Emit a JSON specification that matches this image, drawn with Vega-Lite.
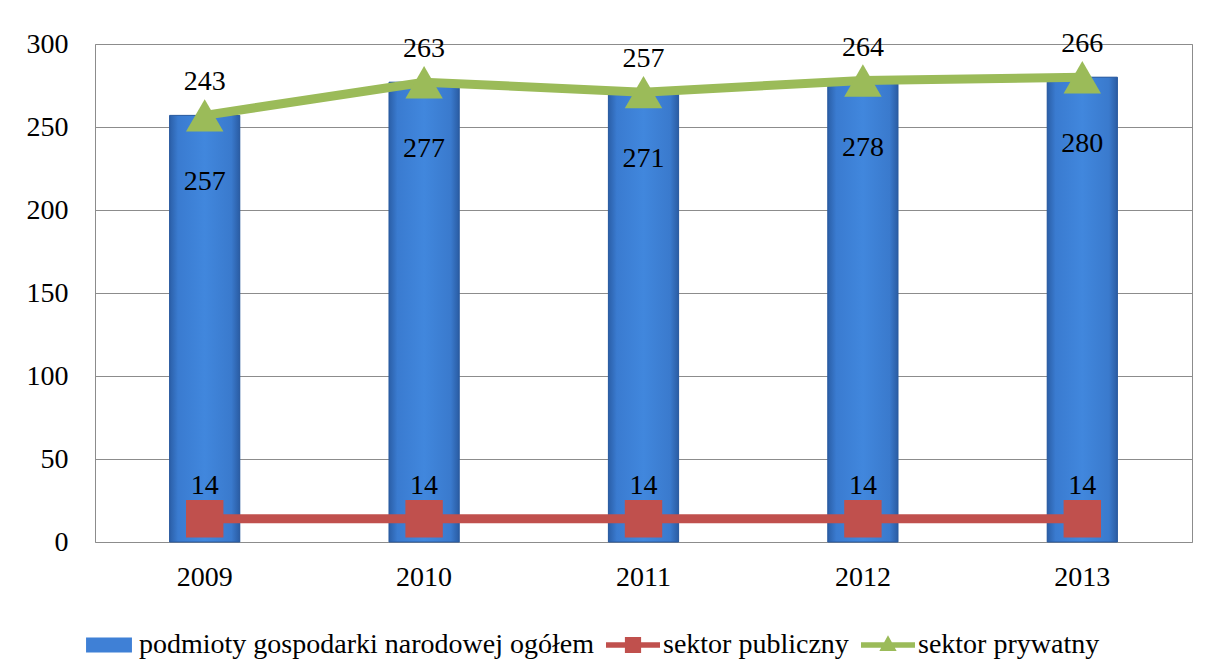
{
  "$schema": "https://vega.github.io/schema/vega-lite/v6.json",
  "width": 1097,
  "height": 498,
  "autosize": {"type": "none"},
  "padding": {"left": 95, "top": 44, "right": 16, "bottom": 124},
  "background": "white",
  "config": {
    "view": {"stroke": "#8c8c8c", "strokeWidth": 1},
    "axis": {"labelFont": "serif", "labelFontSize": 28, "labelColor": "black", "ticks": false, "domain": false, "gridColor": "#8c8c8c", "gridWidth": 1, "gridOpacity": 1},
    "legend": {"labelFont": "serif"},
    "text": {"font": "serif"}
  },
  "data": {
    "values": [
      {"rok": "2009", "seria": "podmioty gospodarki narodowej ogółem", "wartosc": 257},
      {"rok": "2010", "seria": "podmioty gospodarki narodowej ogółem", "wartosc": 277},
      {"rok": "2011", "seria": "podmioty gospodarki narodowej ogółem", "wartosc": 271},
      {"rok": "2012", "seria": "podmioty gospodarki narodowej ogółem", "wartosc": 278},
      {"rok": "2013", "seria": "podmioty gospodarki narodowej ogółem", "wartosc": 280},
      {"rok": "2009", "seria": "sektor publiczny", "wartosc": 14},
      {"rok": "2010", "seria": "sektor publiczny", "wartosc": 14},
      {"rok": "2011", "seria": "sektor publiczny", "wartosc": 14},
      {"rok": "2012", "seria": "sektor publiczny", "wartosc": 14},
      {"rok": "2013", "seria": "sektor publiczny", "wartosc": 14},
      {"rok": "2009", "seria": "sektor prywatny", "wartosc": 243},
      {"rok": "2010", "seria": "sektor prywatny", "wartosc": 263},
      {"rok": "2011", "seria": "sektor prywatny", "wartosc": 257},
      {"rok": "2012", "seria": "sektor prywatny", "wartosc": 264},
      {"rok": "2013", "seria": "sektor prywatny", "wartosc": 266}
    ]
  },
  "encoding": {
    "x": {
      "field": "rok", "type": "nominal",
      "scale": {"paddingInner": 0.68, "paddingOuter": 0.34},
      "axis": {"title": null, "labelAngle": 0, "labelPadding": 21, "grid": false, "labelFont": "serif"}
    }
  },
  "layer": [
    {
      "transform": [{"filter": "datum.seria === 'podmioty gospodarki narodowej ogółem'"}],
      "encoding": {
        "y": {"field": "wartosc", "type": "quantitative", "scale": {"domain": [0, 300], "nice": false},
          "axis": {"title": null, "values": [0, 50, 100, 150, 200, 250, 300], "labelPadding": 27, "grid": true, "labelFont": "serif"}}
      },
      "layer": [
        {
          "mark": {"type": "bar"},
          "encoding": {
            "color": {
              "field": "seria", "type": "nominal",
              "scale": {"domain": ["podmioty gospodarki narodowej ogółem", "sektor publiczny", "sektor prywatny"], "range": ["#3f80d6", "#c0504d", "#9bbb59"]},
              "legend": {
                "title": null, "orient": "none", "legendX": -13, "legendY": 574, "direction": "horizontal",
                "labelFont": "serif", "labelFontSize": 28, "labelColor": "black", "labelLimit": 700,
                "symbolSize": 2916, "symbolStrokeWidth": 0, "labelOffset": 3, "columnPadding": 12,
                "encode": {
                  "symbols": {
                    "update": {
                      "shape": {"signal": "datum.value === 'podmioty gospodarki narodowej ogółem' ? 'M-0.85,-0.28H0.85V0.28H-0.85Z' : datum.value === 'sektor publiczny' ? 'M-1,-0.1H1V0.1H-1Z M-0.3,-0.3H0.3V0.3H-0.3Z' : 'M-1,-0.1H1V0.1H-1Z M0,-0.36L0.32,0.22H-0.32Z'"}
                    }
                  }
                }
              }
            }
          }
        },
        {
          "mark": {
            "type": "bar", "stroke": "#2a5a9e", "strokeWidth": 1,
            "fill": {"gradient": "linear", "x1": 0, "x2": 1, "y1": 0, "y2": 0,
              "stops": [
                {"offset": 0, "color": "#2b5fa8"},
                {"offset": 0.12, "color": "#3a7bd0"},
                {"offset": 0.5, "color": "#4187dd"},
                {"offset": 0.88, "color": "#3a7acd"},
                {"offset": 1, "color": "#2a5ca3"}
              ]}
          }
        },
        {
          "mark": {"type": "text", "dy": 67, "baseline": "middle", "fontSize": 28, "font": "serif", "color": "black"},
          "encoding": {"text": {"field": "wartosc", "type": "quantitative"}}
        }
      ]
    },
    {
      "transform": [
        {"filter": "datum.seria !== 'podmioty gospodarki narodowej ogółem'"},
        {"stack": "wartosc", "groupby": ["rok"], "as": ["y0", "y1"], "sort": [{"field": "seria", "order": "descending"}]}
      ],
      "encoding": {
        "y": {"field": "y1", "type": "quantitative", "title": null},
        "color": {"field": "seria", "type": "nominal", "legend": null}
      },
      "layer": [
        {"mark": {"type": "line", "strokeWidth": 9}},
        {
          "mark": {"type": "point", "filled": true, "opacity": 1, "size": 1400, "strokeWidth": 0},
          "encoding": {
            "shape": {"field": "seria", "type": "nominal", "scale": {"domain": ["sektor publiczny", "sektor prywatny"], "range": ["square", "triangle-up"]}, "legend": null}
          }
        },
        {
          "mark": {"type": "text", "dy": -33, "baseline": "middle", "fontSize": 28, "font": "serif", "color": "black"},
          "encoding": {"text": {"field": "wartosc", "type": "quantitative"}, "color": {"value": "black"}}
        }
      ]
    }
  ]
}
